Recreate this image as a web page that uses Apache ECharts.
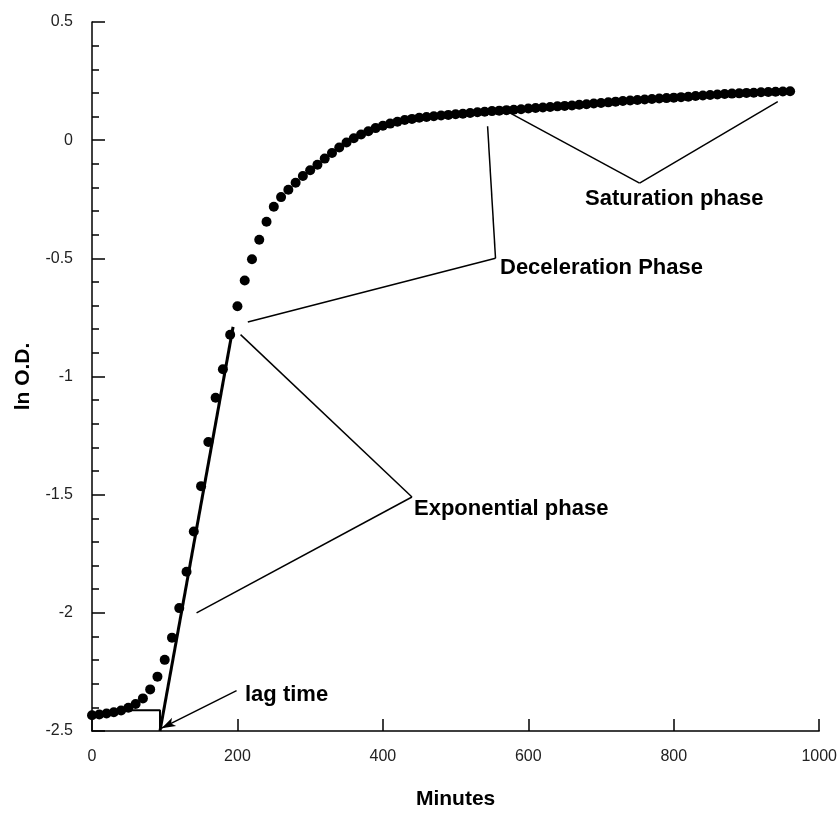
<!DOCTYPE html>
<html>
<head>
<meta charset="utf-8">
<script src="https://cdn.jsdelivr.net/npm/echarts@6/dist/echarts.min.js"></script>
<style>
    html, body { margin: 0; padding: 0; background: #fff; }
    #growth { width: 840px; height: 815px; }
</style>
</head>
<body>
<div id="growth"></div>
<script>
// sampling times (minutes)
var minutes = [
    0, 10, 20, 30, 40, 50, 60, 70, 80, 90,
    100, 110, 120, 130, 140, 150, 160, 170, 180, 190,
    200, 210, 220, 230, 240, 250, 260, 270, 280, 290,
    300, 310, 320, 330, 340, 350, 360, 370, 380, 390,
    400, 410, 420, 430, 440, 450, 460, 470, 480, 490,
    500, 510, 520, 530, 540, 550, 560, 570, 580, 590,
    600, 610, 620, 630, 640, 650, 660, 670, 680, 690,
    700, 710, 720, 730, 740, 750, 760, 770, 780, 790,
    800, 810, 820, 830, 840, 850, 860, 870, 880, 890,
    900, 910, 920, 930, 940, 950, 960
];

// ln O.D. readings
var lnOD = [
    -2.433, -2.430, -2.426, -2.421, -2.413, -2.402, -2.386, -2.362, -2.324, -2.270,
    -2.199, -2.105, -1.980, -1.826, -1.656, -1.464, -1.277, -1.090, -0.969, -0.823,
    -0.703, -0.594, -0.504, -0.421, -0.345, -0.282, -0.241, -0.210, -0.180, -0.152,
    -0.127, -0.104, -0.078, -0.054, -0.031, -0.010, 0.008, 0.024, 0.038, 0.051,
    0.061, 0.070, 0.078, 0.085, 0.090, 0.095, 0.098, 0.101, 0.104, 0.107,
    0.110, 0.112, 0.115, 0.118, 0.120, 0.123, 0.125, 0.127, 0.129, 0.131,
    0.134, 0.136, 0.138, 0.140, 0.143, 0.145, 0.147, 0.150, 0.152, 0.155,
    0.157, 0.160, 0.163, 0.166, 0.168, 0.170, 0.172, 0.174, 0.176, 0.178,
    0.180, 0.182, 0.184, 0.187, 0.189, 0.191, 0.193, 0.195, 0.197, 0.198,
    0.200, 0.201, 0.203, 0.204, 0.205, 0.206, 0.207
];

// fitted exponential line and lag-time construction
var fitLine = [[93.5, -2.5], [194, -0.79]];
var lagCorner = [[30, -2.412], [93.5, -2.412], [93.5, -2.5]];

var xTicks = [0, 1000, 200];       // min, max, step
var yTicks = [-2.5, 0.5, 0.5];

// annotation pointer lines, in data units
var pointers = [
    [[198.8, -2.329], [95.7, -2.488], 'arrow'],
    [[440.0, -1.510], [204.3, -0.823]],
    [[440.0, -1.510], [143.8, -2.000]],
    [[554.9, -0.500], [214.3, -0.769]],
    [[554.9, -0.500], [544.0, 0.059]],
    [[753.0, -0.182], [565.0, 0.131]],
    [[753.0, -0.182], [943.0, 0.163]]
];

var phaseLabels = [
    ['lag time', 245, 695],
    ['Exponential phase', 414, 509],
    ['Deceleration Phase', 500, 268],
    ['Saturation phase', 585, 199]
];

function buildPoints() {
    var pts = [];
    for (var i = 0; i < minutes.length; i++) {
        pts.push([minutes[i], lnOD[i]]);
    }
    return pts;
}

function buildPointers() {
    return pointers.map(function (p) {
        return [
            {coord: p[0], symbol: 'none'},
            {coord: p[1], symbol: p[2] || 'none'}
        ];
    });
}

var font = '"Liberation Sans", Arial, sans-serif';

var myChart = echarts.init(document.getElementById('growth'));

var option = {
    animation: false,
    backgroundColor: '#fff',
    grid: {
        left: 92,
        right: 20,
        top: 22,
        bottom: 72
    },
    xAxis: {
        type: 'value',
        min: xTicks[0],
        max: xTicks[1],
        interval: xTicks[2],
        name: 'Minutes',
        nameLocation: 'middle',
        nameGap: 58,
        nameTextStyle: {fontFamily: font, fontWeight: 'bold', fontSize: 21, color: '#000'},
        axisLine: {onZero: false, lineStyle: {color: '#000', width: 1.5}},
        axisTick: {inside: true, length: 12, lineStyle: {color: '#000', width: 1.5}},
        axisLabel: {
            margin: 18, fontFamily: font, fontSize: 16, color: '#222',
            formatter: function (v) { return String(v); }
        },
        splitLine: {show: false}
    },
    yAxis: {
        type: 'value',
        min: yTicks[0],
        max: yTicks[1],
        interval: yTicks[2],
        name: 'ln O.D.',
        nameLocation: 'middle',
        nameGap: 58,
        nameTextStyle: {fontFamily: font, fontWeight: 'bold', fontSize: 21, color: '#000'},
        axisLine: {onZero: false, lineStyle: {color: '#000', width: 1.5}},
        axisTick: {inside: true, length: 13, lineStyle: {color: '#000', width: 1.5}},
        minorTick: {show: true, splitNumber: 5, length: 7, lineStyle: {color: '#000', width: 1.5}},
        axisLabel: {margin: 19, fontFamily: font, fontSize: 16, color: '#222'},
        splitLine: {show: false},
        minorSplitLine: {show: false}
    },
    graphic: phaseLabels.map(function (l) {
        return {
            type: 'text',
            silent: true,
            style: {
                text: l[0],
                x: l[1],
                y: l[2],
                verticalAlign: 'middle',
                font: 'bold 22px ' + font,
                fill: '#000'
            }
        };
    }),
    series: [
        {
            type: 'line',
            data: lagCorner,
            showSymbol: false,
            silent: true,
            lineStyle: {color: '#000', width: 2},
            z: 2
        },
        {
            type: 'line',
            data: fitLine,
            showSymbol: false,
            silent: true,
            lineStyle: {color: '#000', width: 3},
            z: 2,
            markLine: {
                silent: true,
                symbolSize: [7, 14],
                label: {show: false},
                lineStyle: {color: '#000', width: 1.5, type: 'solid'},
                data: buildPointers()
            }
        },
        {
            type: 'scatter',
            data: buildPoints(),
            symbol: 'circle',
            symbolSize: 10,
            itemStyle: {color: '#000', opacity: 1},
            z: 3
        }
    ]
};

myChart.setOption(option);
</script>
</body>
</html>
